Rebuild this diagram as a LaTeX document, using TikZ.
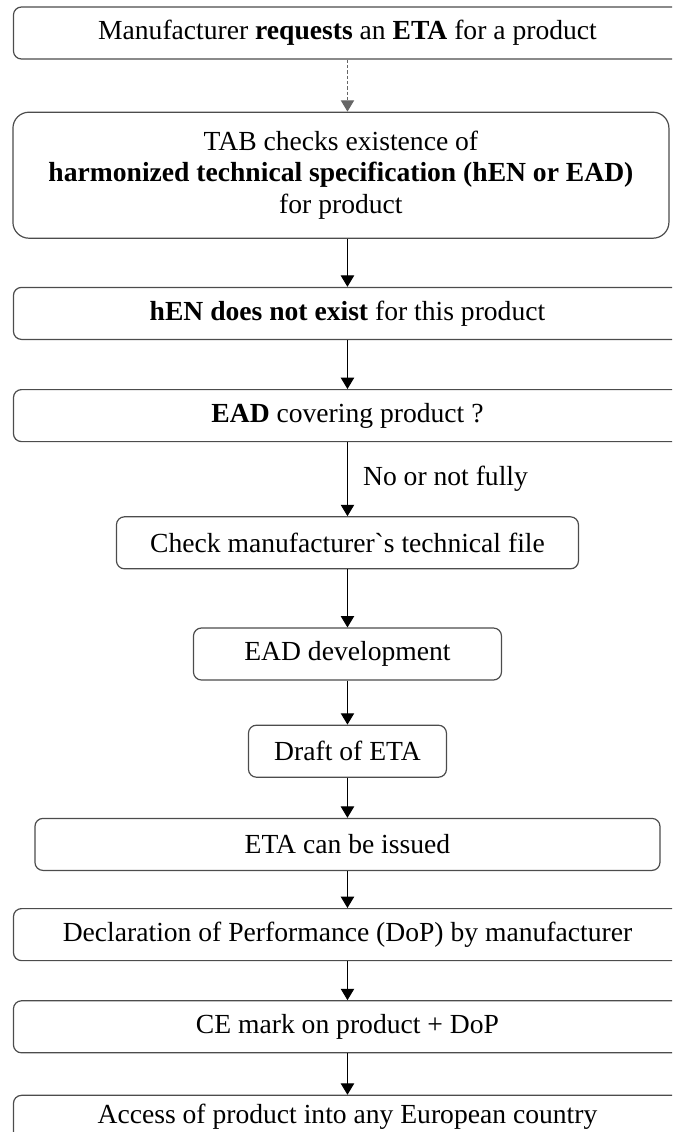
\documentclass[tikz,border=0pt]{standalone}
\usepackage{fontspec}
\setmainfont{Liberation Serif}
\usepackage{tikz}
\usetikzlibrary{positioning,arrows.meta}
\tikzstyle{block} = [draw=black!70, line width=0.9pt, rectangle, rounded corners=6pt, minimum height=39pt, text centered, font=\fontsize{20.7}{23.5}\selectfont]
\tikzstyle{wide} = [block, minimum width=501pt]
\tikzstyle{flow} = [draw, line width=0.75pt, -{Triangle[width=10pt,length=8.5pt]}]

\begin{document}
\begin{tikzpicture}
		\useasboundingbox (0,0) rectangle (504pt,-849pt);
		\clip (0,0) rectangle (504pt,-849pt);

		\node [wide] (request) at (260.6pt,-24.75pt) {Manufacturer \textbf{requests} an \textbf{ETA} for a product};
		\node [block, minimum width=492pt, minimum height=94.5pt, rounded corners=12pt, align=center, below=39pt of request, xshift=-4.9pt] (tab) {TAB checks existence of\\ \textbf{harmonized technical specification (hEN or EAD)}\\ for product};
		\node [wide, below=36pt of tab, xshift=4.9pt] (hen) {\textbf{hEN does not exist} for this product};
		\node [wide, below=36.75pt of hen] (ead) {\textbf{EAD} covering product ?};
		\node [block, minimum width=346.5pt, below=55.5pt of ead] (file) {Check manufacturer\textasciigrave s technical file};
		\node [block, minimum width=231pt, below=43.5pt of file] (develop) {EAD development};
		\node [block, minimum width=148.5pt, below=33pt of develop] (draft) {Draft of ETA};
		\node [block, minimum width=468.75pt, below=30pt of draft] (issue) {ETA can be issued};
		\node [wide, below=27.75pt of issue] (dop) {Declaration of Performance (DoP) by manufacturer};
		\node [wide, below=29.25pt of dop] (mark) {CE mark on product + DoP};
		\node [wide, below=31pt of mark, text depth=12pt] (access) {Access of product into any European country};

		\draw [flow, draw=black!60, dash pattern=on 2.5pt off 1.5pt] (request.south) -- (request.south |- tab.north);
		\draw [flow] (hen.north |- tab.south) -- (hen.north);
		\draw [flow] (hen) -- (ead);
		\draw [flow] (ead) -- node [right=8pt] {\fontsize{20.7}{22}\selectfont No or not fully} (file);
		\draw [flow] (file) -- (develop);
		\draw [flow] (develop) -- (draft);
		\draw [flow] (draft) -- (issue);
		\draw [flow] (issue) -- (dop);
		\draw [flow] (dop) -- (mark);
		\draw [flow] (mark) -- (access);
	\end{tikzpicture}
\end{document}
